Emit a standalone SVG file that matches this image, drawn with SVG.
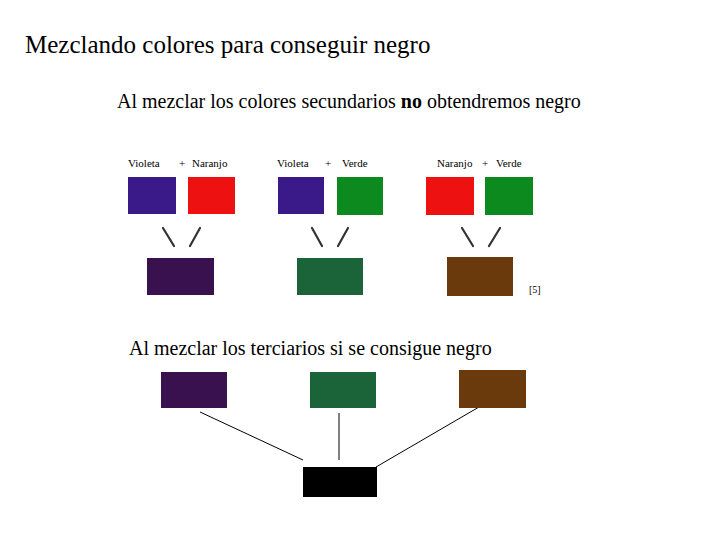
<svg xmlns="http://www.w3.org/2000/svg" width="728" height="546" viewBox="0 0 728 546">
<style>
text{font-family:"Liberation Serif","Times New Roman",serif;fill:#000}
.h1{font-size:25px}
.h2{font-size:20px}
.lbl{font-size:11px}
.ref{font-size:10px}
.slash{stroke:#333;stroke-width:2.2;stroke-linecap:round;fill:none}
.conn{stroke:#000;stroke-width:1;fill:none}
.vio{fill:#3a1a88}.red{fill:#ee1111}.grn{fill:#0d8a1e}
.rvio{fill:#3a114f}.rgrn{fill:#1b643a}.rbrn{fill:#6b3a0c}.blk{fill:#000}
</style>
<rect width="728" height="546" fill="#fff"/>
<text class="h1" x="25" y="53">Mezclando colores para conseguir negro</text>
<text class="h2" x="117" y="108">Al mezclar los colores secundarios <tspan font-weight="bold">no</tspan> obtendremos negro</text>
<g id="photo">
<text class="lbl" x="128" y="167">Violeta</text>
<text class="lbl" x="179" y="167">+</text>
<text class="lbl" x="192" y="167">Naranjo</text>
<text class="lbl" x="277" y="167">Violeta</text>
<text class="lbl" x="325" y="167">+</text>
<text class="lbl" x="342" y="167">Verde</text>
<text class="lbl" x="437" y="167">Naranjo</text>
<text class="lbl" x="482" y="167">+</text>
<text class="lbl" x="496" y="167">Verde</text>
<rect class="vio" x="128" y="177" width="48" height="37"/>
<rect class="red" x="188" y="177" width="47" height="37"/>
<rect class="vio" x="278" y="177" width="46" height="37"/>
<rect class="grn" x="337" y="177" width="46" height="38"/>
<rect class="red" x="426" y="177" width="48" height="38"/>
<rect class="grn" x="485" y="177" width="48" height="38"/>
<path class="slash" d="M163 228L174 246M200 228L190 246M312 228L322 246M348 228L338 246M462 228L473 246M500 228L489 246"/>
<rect class="rvio" x="147" y="258" width="67" height="37"/>
<rect class="rgrn" x="297" y="258" width="66" height="37"/>
<rect class="rbrn" x="447" y="257" width="66" height="39"/>
<text class="ref" x="529" y="293">[5]</text>
</g>
<text class="h2" x="129" y="355">Al mezclar los terciarios si se consigue negro</text>
<g id="connectors">
<line class="conn" x1="200" y1="412" x2="303" y2="460"/>
<line class="conn" x1="339" y1="413" x2="339" y2="460"/>
<line class="conn" x1="479" y1="407" x2="376" y2="467"/>
</g>
<g id="ter-violeta"><rect class="rvio" x="161" y="372" width="66" height="36"/></g>
<g id="ter-verde"><rect class="rgrn" x="310" y="372" width="66" height="36"/></g>
<g id="ter-marron"><rect class="rbrn" x="459" y="370" width="67" height="38"/></g>
<g id="negro"><rect class="blk" x="303" y="467" width="74" height="30"/></g>
</svg>
